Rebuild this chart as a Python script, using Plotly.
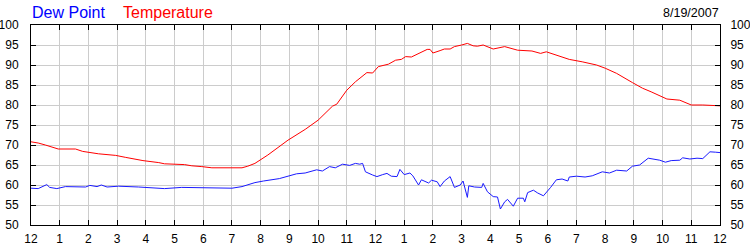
import plotly.graph_objects as go

# Hours since midnight
temp_hours = [0, 0.25, 0.5, 0.75, 0.95, 1.55, 1.8, 2.35, 2.95, 3.3, 3.9, 4.45, 4.65, 5.35, 5.6, 5.95,
              6.3, 7.35, 7.55, 7.8, 8.25, 8.95, 9.55, 10.0, 10.5, 10.65, 11.0, 11.3, 11.55, 11.7, 11.9,
              12.1, 12.45, 12.7, 12.9, 13.05, 13.25, 13.5, 13.8, 13.9, 14.0, 14.25, 14.4, 14.6, 14.75,
              15.0, 15.2, 15.4, 15.55, 15.75, 16.1, 16.5, 16.95, 17.45, 17.75, 17.95, 18.3, 18.75, 19.2,
              19.7, 20.0, 20.4, 20.95, 21.3, 21.6, 22.15, 22.6, 23.0, 23.4, 24.0]
temperature = [70.8, 70.5, 70.0, 69.5, 69.0, 69.0, 68.4, 67.8, 67.4, 66.9, 66.1, 65.6, 65.3, 65.1, 64.8, 64.6,
               64.3, 64.3, 64.7, 65.4, 67.5, 71.2, 73.9, 76.2, 79.7, 80.2, 83.7, 85.8, 87.1, 88.1, 88.0,
               89.6, 90.2, 91.2, 91.4, 92.1, 92.0, 92.9, 93.9, 93.9, 93.0, 93.6, 94.0, 94.0, 94.6,
               95.0, 95.4, 94.8, 94.7, 95.0, 94.0, 94.6, 93.7, 93.5, 92.9, 93.3, 92.5, 91.4, 90.8,
               90.0, 89.2, 87.9, 85.6, 84.2, 83.3, 81.5, 81.2, 80.0, 80.0, 79.8]

dew_hours = [0, 0.25, 0.55, 0.65, 0.9, 1.2, 1.9, 2.05, 2.3, 2.45, 2.65, 3.05, 3.75, 4.65, 5.25, 6.3, 7.0,
             7.35, 7.8, 8.1, 8.65, 9.25, 9.55, 9.95, 10.15, 10.4, 10.6, 10.85, 11.1, 11.3, 11.45, 11.55,
             11.65, 11.9, 12.05, 12.25, 12.4, 12.55, 12.75, 12.85, 13.0, 13.2, 13.3, 13.5, 13.6, 13.85,
             13.95, 14.15, 14.25, 14.4, 14.6, 14.75, 14.95, 15.05, 15.2, 15.25, 15.45, 15.7, 15.75, 15.9,
             16.1, 16.25, 16.35, 16.5, 16.6, 16.8, 16.95, 17.15, 17.2, 17.3, 17.5, 17.65, 17.85, 18.1,
             18.3, 18.5, 18.7, 18.75, 19.0, 19.3, 19.55, 19.9, 20.15, 20.4, 20.75, 20.95, 21.2, 21.5,
             21.75, 21.9, 22.1, 22.3, 22.6, 22.7, 22.95, 23.2, 23.4, 23.65, 23.85, 24.0]
dew_point = [59.2, 59.1, 60.1, 59.4, 59.1, 59.6, 59.5, 59.9, 59.6, 60.0, 59.5, 59.7, 59.5, 59.1, 59.4, 59.3, 59.2,
             59.6, 60.6, 61.0, 61.6, 62.8, 63.0, 63.8, 63.5, 64.6, 64.3, 65.2, 64.9, 65.4, 65.2, 65.4,
             63.3, 62.5, 62.1, 62.6, 62.9, 62.2, 62.1, 63.9, 62.6, 63.0, 62.3, 60.0, 61.3, 60.5,
             61.2, 60.8, 59.6, 61.0, 62.1, 59.4, 60.0, 61.0, 56.9, 59.8, 59.5, 59.4, 60.4, 58.3,
             57.1, 57.0, 54.0, 55.8, 56.4, 54.7, 56.7, 56.7, 55.8, 58.1, 58.7, 58.0, 57.3, 59.4,
             61.3, 61.5, 61.0, 62.0, 62.2, 62.0, 62.3, 63.3, 63.0, 63.7, 63.5, 64.7, 65.0, 66.7,
             66.5, 66.2, 65.7, 66.1, 66.2, 66.8, 66.5, 66.7, 66.6, 68.3, 68.2, 68.1]

x_tickvals = list(range(0, 25))
x_ticktext = ["12"] + [str(h) for h in range(1, 12)] + ["12"] + [str(h) for h in range(1, 12)] + ["12"]
y_tickvals = list(range(50, 101, 5))

FONT = "Liberation Sans, Arial, sans-serif"

fig = go.Figure()
fig.add_trace(go.Scatter(x=temp_hours, y=temperature, mode="lines", name="Temperature",
                         line=dict(color="#ff0000", width=1), yaxis="y"))
fig.add_trace(go.Scatter(x=dew_hours, y=dew_point, mode="lines", name="Dew Point",
                         line=dict(color="#1a1aff", width=1), yaxis="y2"))

axis_common = dict(showline=True, linecolor="black", linewidth=1, ticks="inside", ticklen=5,
                   tickcolor="black", gridcolor="#cccccc", gridwidth=1, zeroline=False,
                   automargin=False,
                   tickfont=dict(family=FONT, size=12, color="black"))

fig.update_layout(
    width=750, height=250,
    margin=dict(l=31, r=30, t=25, b=25, pad=0),
    plot_bgcolor="white", paper_bgcolor="white",
    showlegend=False,
    xaxis=dict(range=[0, 24], tickvals=x_tickvals, ticktext=x_ticktext, mirror="ticks",
               ticklabelstandoff=3, **axis_common),
    yaxis=dict(range=[50, 100], tickvals=y_tickvals, side="left", mirror=True,
               ticklabelstandoff=9, **axis_common),
    yaxis2=dict(range=[50, 100], tickvals=y_tickvals, side="right", overlaying="y",
                ticklabelstandoff=7, **axis_common),
    annotations=[
        dict(text="Dew Point", x=-1 / 689, y=(225 - 12) / 200, xref="paper", yref="paper",
             xanchor="left", yanchor="middle", showarrow=False,
             font=dict(family=FONT, size=16, color="#0000ff")),
        dict(text="Temperature", x=90 / 689, y=(225 - 12) / 200, xref="paper", yref="paper",
             xanchor="left", yanchor="middle", showarrow=False,
             font=dict(family=FONT, size=16, color="#ff0000")),
        dict(text="8/19/2007", x=690 / 689, y=(225 - 13) / 200, xref="paper", yref="paper",
             xanchor="right", yanchor="middle", showarrow=False,
             font=dict(family=FONT, size=12.5, color="black")),
    ],
)

fig.write_html("out.html")
